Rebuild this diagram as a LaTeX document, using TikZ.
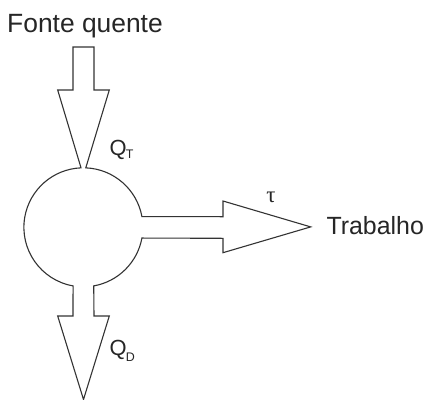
\documentclass[tikz,border=0pt]{standalone}
\usepackage{fontspec}
\setmainfont{Liberation Sans}
\newfontfamily\taufont{Liberation Serif}
\usetikzlibrary{calc}
\begin{document}
\begin{tikzpicture}[x=1bp,y=1bp,
  outline/.style={draw=black!80, line width=1.1bp, line join=miter},
  lbl/.style={inner sep=0pt, outer sep=0pt, text=black!85, anchor=base west}]
\useasboundingbox[fill=white] (0,0) rectangle (425,-400);
% centre of the engine
\coordinate (C) at (83.4,-227.3);
\def\R{59.5}
\draw[outline]
  ($(C)+(87.7:\R)$) arc[start angle=87.7, end angle=10.4, radius=\R]
  -- (223,-216.7) -- (223,-201) -- (310.7,-226.9) -- (223,-252.7) -- (223,-238.3)
  -- ($(C)+(-10.4:\R)$) arc[start angle=-10.4, end angle=-80, radius=\R]
  -- (94,-316) -- (109.3,-316) -- (83.5,-399.5) -- (57.7,-316) -- (73,-316)
  -- ($(C)+(-100:\R)$) arc[start angle=-100, end angle=-267.7, radius=\R]
  -- (57.7,-90) -- (73,-90) -- (73,-47) -- (94,-47) -- (94,-90) -- (109.3,-90) -- cycle;
\node[lbl, font=\fontsize{26.5}{30}\selectfont] (fonte) at (7.2,-32.3) {Fonte quente};
\node[lbl, font=\fontsize{25}{28}\selectfont] (trab) at (326.5,-234.3) {Trabalho};
\node[lbl, font=\fontsize{22}{24}\selectfont] (qt) at (109.5,-155.5) {Q};
\node[lbl, font=\fontsize{12.5}{14}\selectfont] (qts) at (125.8,-158.3) {T};
\node[lbl, font=\fontsize{22}{24}\selectfont] (qd) at (109.5,-355.5) {Q};
\node[lbl, font=\fontsize{12.5}{14}\selectfont] (qds) at (125.8,-361.7) {D};
\node[lbl, font=\taufont\fontsize{23}{24}\selectfont] (tau) at (266.3,-202.7) {τ};
\end{tikzpicture}
\end{document}
